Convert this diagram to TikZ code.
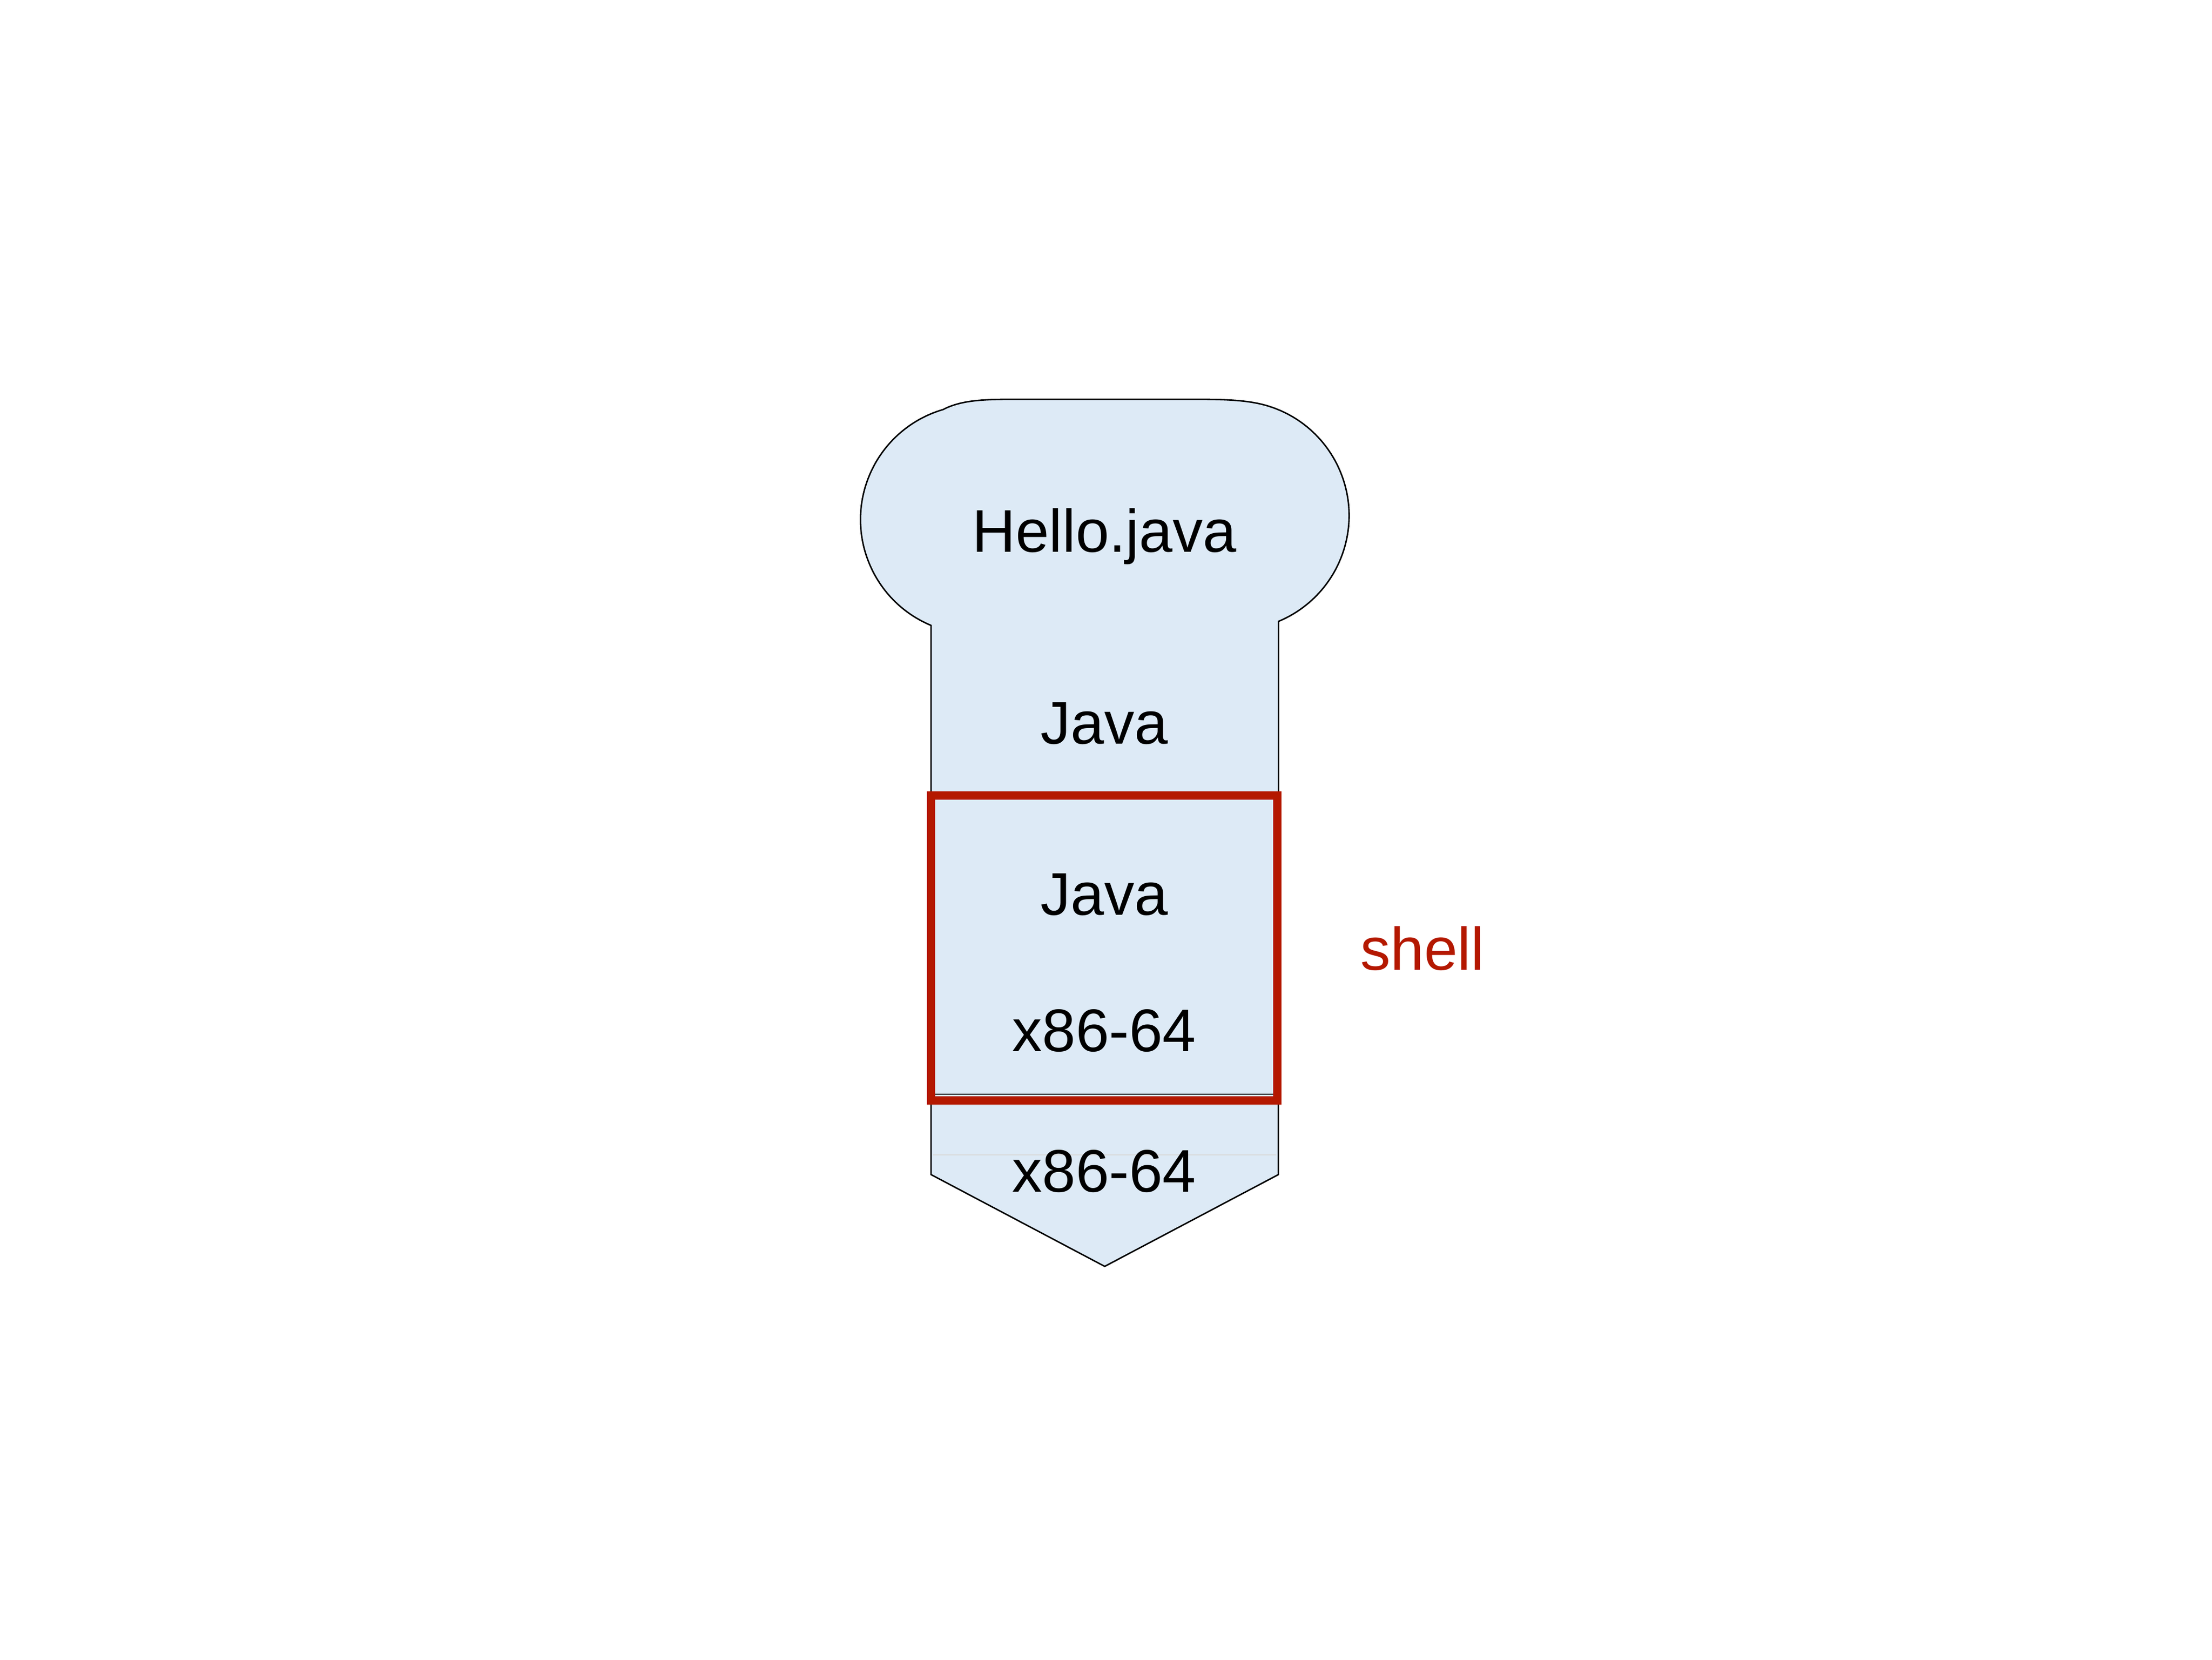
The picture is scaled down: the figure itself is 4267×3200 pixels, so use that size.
\documentclass[tikz,border=0pt]{standalone}
\usepackage{fontspec}
\setmainfont{Liberation Sans}
\usepackage{tikz}
\definecolor{layerblue}{HTML}{DDEAF6}
\definecolor{shellred}{HTML}{B41800}

\begin{document}
\begin{tikzpicture}[
    x=0.01cm, y=0.01cm,
    layer/.style={draw=black, fill=layerblue, line width=0.8pt},
    label/.style={anchor=base, font=\fontsize{33}{40}\selectfont},
    shellbox/.style={draw=shellred, line width=4.8pt}
]
    \useasboundingbox (0,0) rectangle (4267,3200);

    % Stack outline: source head, neck and pointed foot
    \draw[layer] (1796,1994) arc[start angle=247.4, end angle=106.2, radius=221]
        .. controls (1855,2429) and (1900,2430) .. (1960,2430) -- (2300,2430)
        .. controls (2360,2430) and (2405,2429) .. (2443,2418)
        arc[start angle=73.8, end angle=-67.4, radius=221]
        -- (2466,935) -- (2131,758) -- (1796,935) -- cycle;

    % Layer separators
    \draw[line width=0.8pt] (1796,1090) -- (2466,1090);
    \draw[gray!30, line width=0.8pt] (1800,973) -- (2462,973);

    % Shell
    \draw[shellbox] (1796,1078) rectangle (2464,1666);

    % Labels
    \node[label] (src) at (2130,2135) {Hello.java};
    \node[label] (java) at (2130,1765) {Java};
    \node[label] (shelljava) at (2130,1435) {Java};
    \node[label] (shellx86) at (2130,1172) {x86-64};
    \node[label] (x86) at (2130,901) {x86-64};
    \node[label, anchor=base west, text=shellred, inner sep=0pt] (shell) at (2624,1329) {shell};

\end{tikzpicture}
\end{document}
